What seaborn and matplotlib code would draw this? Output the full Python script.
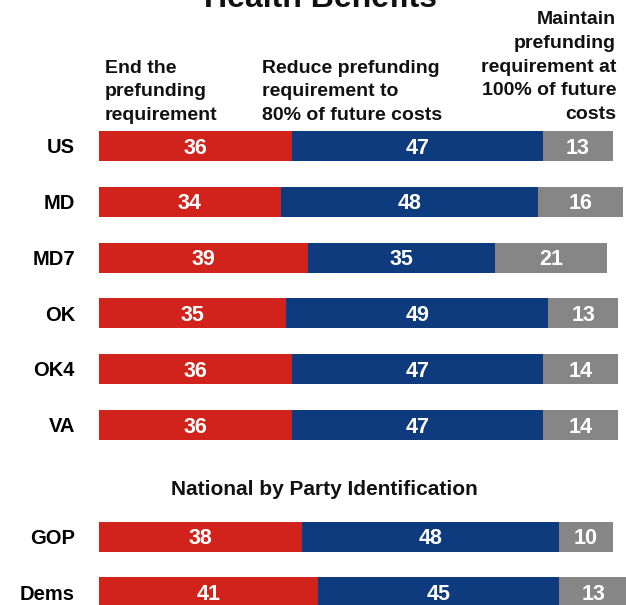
import matplotlib
matplotlib.use("Agg")
import matplotlib.pyplot as plt
import numpy as np
import pandas as pd
import seaborn as sns

# ---- data -------------------------------------------------------------
groups = ["US", "MD", "MD7", "OK", "OK4", "VA", "GOP", "Dems"]
rows = [0, 1, 2, 3, 4, 5, 7, 8]          # row 6 holds the party sub-heading
end_requirement = [36, 34, 39, 35, 36, 36, 38, 41]
reduce_to_80 = [47, 48, 35, 49, 47, 47, 48, 45]
maintain_100 = [13, 16, 21, 13, 14, 14, 10, 13]

header_end = ["End the", "prefunding", "requirement"]
header_reduce = ["Reduce prefunding", "requirement to", "80% of future costs"]
header_maintain = ["Maintain", "prefunding", "requirement at", "100% of future", "costs"]
title = "Health Benefits"
subtitle = "National by Party Identification"

colors = ["#D1231B", "#0E3A7E", "#868686"]

# ---- layout (pixel geometry of the 626x605 canvas) ---------------------
W, H = 626, 605
X0, PX = 99, 5.35          # bar origin and pixels per percentage point
Y0, DY = 146, 55.8         # first row centre and row pitch
BAR_H = 30 / DY

def xd(px):
    return (px - X0) / PX

def yd(py):
    return (py - Y0) / DY

sns.set_theme(style="white")
plt.rcParams["font.family"] = ["Liberation Sans", "DejaVu Sans"]
plt.rcParams["font.weight"] = "bold"

fig = plt.figure(figsize=(W / 100, H / 100), dpi=100)
fig.patch.set_facecolor("white")
ax = fig.add_axes([0, 0, 1, 1])

df = pd.DataFrame({
    "group": groups,
    "row": rows,
    "end": end_requirement,
    "reduce": reduce_to_80,
    "maintain": maintain_100,
})
df["cum1"] = df["end"]
df["cum2"] = df["end"] + df["reduce"]
df["cum3"] = df["cum2"] + df["maintain"]

# stacked bars: draw the running totals from longest to shortest
for col, color in zip(["cum3", "cum2", "cum1"], colors[::-1]):
    sns.barplot(data=df, x=col, y="row", orient="y", native_scale=True,
                color=color, saturation=1, width=BAR_H, errorbar=None,
                linewidth=0, ax=ax)

ax.set_xlim(xd(0), xd(W))
ax.set_ylim(yd(H), yd(0))
ax.axis("off")

# value labels inside each segment
VAL_FS = 15.5
for _, r in df.iterrows():
    lefts = [0, r["cum1"], r["cum2"]]
    vals = [r["end"], r["reduce"], r["maintain"]]
    for left, v in zip(lefts, vals):
        ax.text(left + v / 2, r["row"] + 7.6 / DY, f"{v}", color="white",
                fontsize=VAL_FS, fontweight="bold", ha="center", va="baseline")

# row labels
for g, r in zip(groups, rows):
    ax.text(xd(75), r + 7.2 / DY, g, color="black", fontsize=14.5,
            fontweight="bold", ha="right", va="baseline")

# column headers, bottom-aligned above the bars
HDR_FS = 14
LINE = 23.7
base = 120
for i, line in enumerate(reversed(header_end)):
    ax.text(xd(105), yd(base - i * LINE), line, fontsize=HDR_FS,
            fontweight="bold", ha="left", va="baseline", color="#111111")
for i, line in enumerate(reversed(header_reduce)):
    ax.text(xd(262), yd(base - i * LINE), line, fontsize=HDR_FS,
            fontweight="bold", ha="left", va="baseline", color="#111111")
for i, line in enumerate(reversed(header_maintain)):
    ax.text(xd(616), yd(base - 1 - i * LINE), line, fontsize=HDR_FS,
            fontweight="bold", ha="right", va="baseline", color="#111111")

# title running off the top edge and the party sub-heading
ax.text(xd(320), yd(7), title, fontsize=23, fontweight="bold",
        ha="center", va="baseline", color="#111111", clip_on=False)
ax.text(xd(324), yd(495), subtitle, fontsize=15, fontweight="bold",
        ha="center", va="baseline", color="#111111")

fig.savefig("out.png", dpi=100, facecolor="white")
